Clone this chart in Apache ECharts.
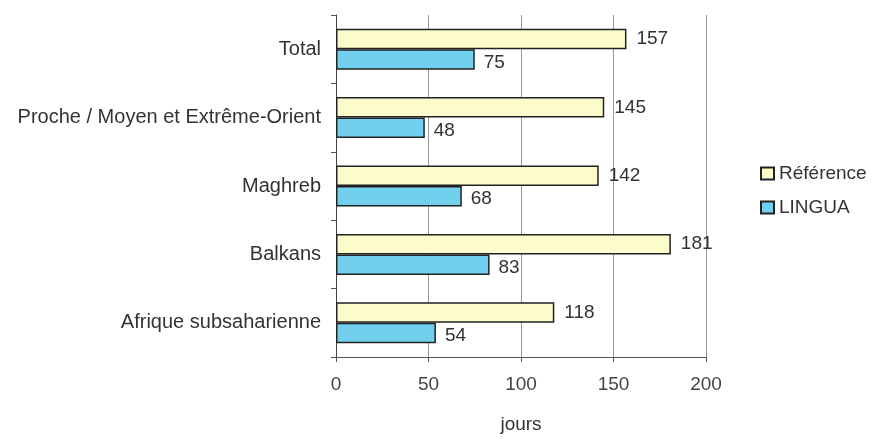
<!DOCTYPE html>
<html>
<head>
<meta charset="utf-8">
<script src="https://cdn.jsdelivr.net/npm/echarts@6/dist/echarts.min.js"></script>
<style>
  html, body { margin: 0; padding: 0; background: #fff; }
  #chart { width: 873px; height: 439px; }
</style>
</head>
<body>
<div id="chart"></div>
<script>
// Régions, de haut en bas
const categories = ['Total', 'Proche / Moyen et Extrême-Orient', 'Maghreb', 'Balkans', 'Afrique subsaharienne'];
// Durées en jours
const reference = [157, 145, 142, 181, 118];
const lingua = [75, 48, 68, 83, 54];
const xTicks = { min: 0, max: 200, interval: 50 };

const FONT = '"Liberation Sans", Arial, sans-serif';
const chart = echarts.init(document.getElementById('chart'), null, { renderer: 'canvas' });

chart.setOption({
  animation: false,
  backgroundColor: '#ffffff',
  grid: { left: 336, right: 167, top: 15, bottom: 78, containLabel: false },
  legend: {
    orient: 'vertical',
    left: 755,
    top: 159,
    itemWidth: 13,
    itemHeight: 12,
    itemGap: 15,
    icon: 'rect',
    textStyle: { fontFamily: FONT, fontSize: 19, color: '#333' },
    data: ['Référence', 'LINGUA']
  },
  xAxis: {
    type: 'value',
    min: xTicks.min,
    max: xTicks.max,
    interval: xTicks.interval,
    name: 'jours',
    nameLocation: 'middle',
    nameGap: 58,
    nameTextStyle: { fontFamily: FONT, fontSize: 19, color: '#333' },
    axisLine: { show: true, lineStyle: { color: '#555', width: 1 } },
    axisTick: { show: true, length: 5, inside: false, lineStyle: { color: '#555' } },
    axisLabel: { fontFamily: FONT, fontSize: 19, color: '#444', margin: 18 },
    splitLine: { show: true, lineStyle: { color: '#999', width: 1 } }
  },
  yAxis: {
    type: 'category',
    inverse: true,
    data: categories,
    axisLine: { show: true, lineStyle: { color: '#444', width: 1 } },
    axisTick: { show: true, length: 5, lineStyle: { color: '#555' } },
    axisLabel: { fontFamily: FONT, fontSize: 20, color: '#333', margin: 15 }
  },
  series: [
    {
      name: 'Référence',
      type: 'bar',
      data: reference,
      barGap: '0%',
      barCategoryGap: '40%',
      itemStyle: { color: '#fbfbcc', borderColor: '#222', borderWidth: 1.5 },
      label: { show: true, position: 'right', distance: 10, fontFamily: FONT, fontSize: 19, color: '#333' }
    },
    {
      name: 'LINGUA',
      type: 'bar',
      data: lingua,
      itemStyle: { color: '#72d0ef', borderColor: '#222', borderWidth: 1.5 },
      label: { show: true, position: 'right', distance: 9, offset: [0, 3], fontFamily: FONT, fontSize: 19, color: '#333' }
    }
  ]
});
</script>
</body>
</html>
